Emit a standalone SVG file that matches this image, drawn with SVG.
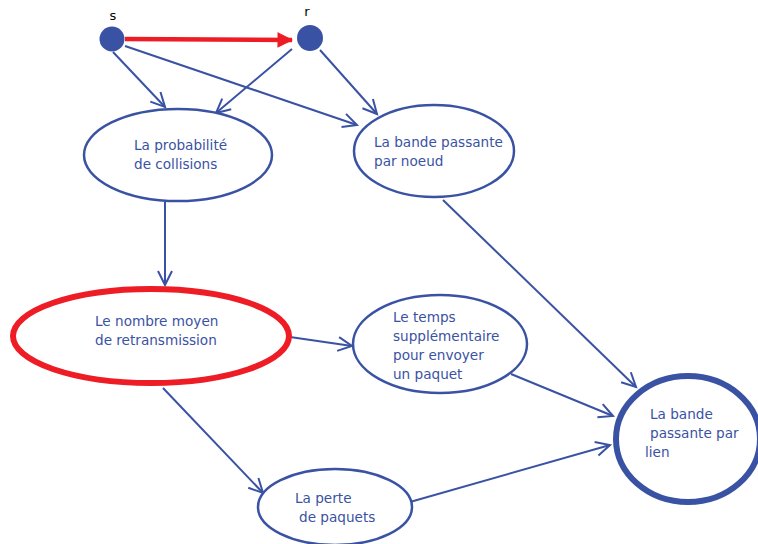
<svg xmlns="http://www.w3.org/2000/svg" width="758" height="544" viewBox="0 0 758 544">
<style>
.t{font-family:"DejaVu Sans",sans-serif;font-size:13.6px;fill:#3a52a3}
.lbl{font-family:"DejaVu Sans",sans-serif;font-size:13px;fill:#000}
.n{fill:#fff;stroke:#3a52a3;stroke-width:2.5}
.e{fill:none;stroke:#3a52a3;stroke-width:2}
</style>
<defs>
<marker id="ah" markerUnits="userSpaceOnUse" markerWidth="18" markerHeight="18" refX="15" refY="8" orient="auto" viewBox="0 0 18 16">
<path d="M1,1 L15,8 L1,15" fill="none" stroke="#3a52a3" stroke-width="2"/>
</marker>
<marker id="ahr" markerUnits="userSpaceOnUse" markerWidth="18" markerHeight="18" refX="15" refY="8" orient="auto" viewBox="0 0 18 16">
<path d="M1,1 L15,8 L1,15 Z" fill="#ee1c24" stroke="#ee1c24" stroke-width="1"/>
</marker>
</defs>
<g id="edges">
<line class="e" x1="113" y1="52" x2="165" y2="107" marker-end="url(#ah)"/>
<line class="e" x1="125" y1="46" x2="357" y2="125" marker-end="url(#ah)"/>
<line class="e" x1="292" y1="49" x2="216" y2="113" marker-end="url(#ah)"/>
<line class="e" x1="320" y1="50" x2="377" y2="114" marker-end="url(#ah)"/>
<line class="e" x1="165" y1="202" x2="165" y2="285" marker-end="url(#ah)"/>
<line class="e" x1="443" y1="200" x2="636" y2="387" marker-end="url(#ah)"/>
<line class="e" x1="290" y1="337" x2="352" y2="346" marker-end="url(#ah)"/>
<line class="e" x1="163" y1="388" x2="263" y2="493" marker-end="url(#ah)"/>
<line class="e" x1="511" y1="374" x2="613" y2="416" marker-end="url(#ah)"/>
<line class="e" x1="410" y1="502" x2="610" y2="445" marker-end="url(#ah)"/>
<line x1="125" y1="39" x2="292" y2="40" stroke="#ee1c24" stroke-width="4.5" marker-end="url(#ahr)"/>
</g>
<g id="s">
<circle cx="112" cy="39" r="12.5" fill="#3a52a3"/>
<text class="lbl" x="113" y="20" text-anchor="middle">s</text>
</g>
<g id="r">
<circle cx="310" cy="38" r="13" fill="#3a52a3"/>
<text class="lbl" x="307" y="16" text-anchor="middle">r</text>
</g>
<g id="proba">
<ellipse class="n" cx="178" cy="155" rx="94" ry="46"/>
<text class="t" x="134" y="150">La probabilité</text>
<text class="t" x="134" y="169">de collisions</text>
</g>
<g id="bandeNoeud">
<ellipse class="n" cx="434" cy="151" rx="80" ry="46"/>
<text class="t" x="374" y="147">La bande passante</text>
<text class="t" x="374" y="166">par noeud</text>
</g>
<g id="retrans">
<ellipse cx="151" cy="336" rx="138" ry="47" fill="#fff" stroke="#ee1c24" stroke-width="6"/>
<text class="t" x="95" y="326">Le nombre moyen</text>
<text class="t" x="95" y="345">de retransmission</text>
</g>
<g id="temps">
<ellipse class="n" cx="440" cy="344" rx="87" ry="49"/>
<text class="t" x="393" y="322">Le temps</text>
<text class="t" x="393" y="341">supplémentaire</text>
<text class="t" x="393" y="360">pour envoyer</text>
<text class="t" x="393" y="379">un paquet</text>
</g>
<g id="perte">
<ellipse class="n" cx="335" cy="507" rx="77" ry="38"/>
<text class="t" x="295" y="503">La perte</text>
<text class="t" x="299" y="522">de paquets</text>
</g>
<g id="bandeLien">
<ellipse cx="688" cy="439" rx="72" ry="63" fill="#fff" stroke="#3a52a3" stroke-width="6"/>
<text class="t" x="650" y="419">La bande</text>
<text class="t" x="650" y="438">passante par</text>
<text class="t" x="645" y="457">lien</text>
</g>
</svg>
